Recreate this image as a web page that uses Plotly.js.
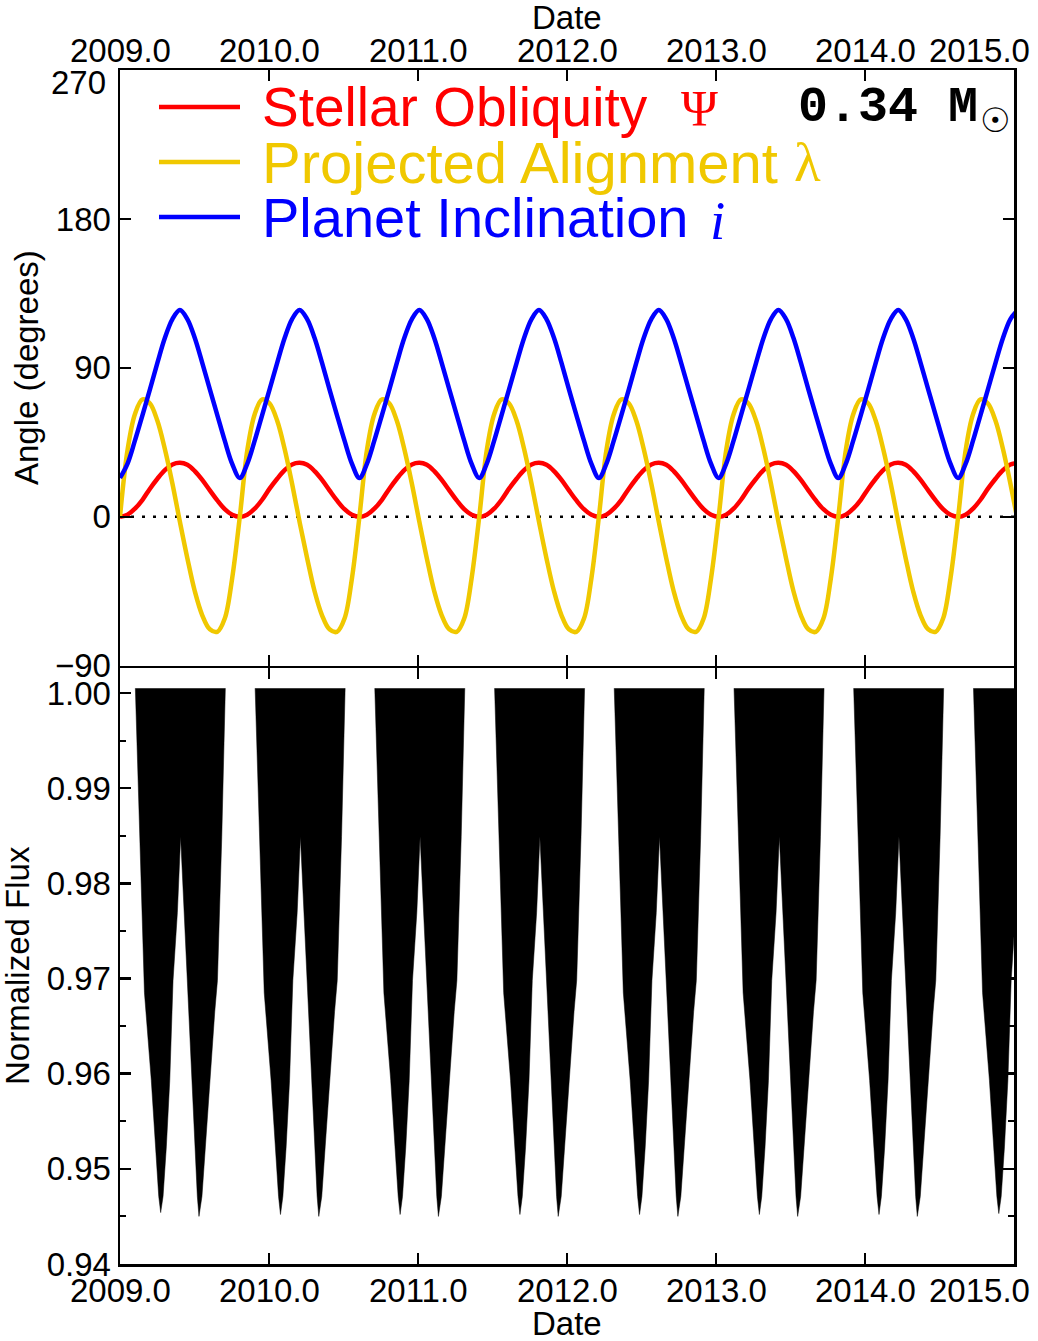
<!DOCTYPE html>
<html>
<head>
<meta charset="utf-8">
<script src="https://cdn.plot.ly/plotly-3.0.1.min.js"></script>
<style>
  html, body { margin: 0; padding: 0; background: white; }
  #chart { width: 1038px; height: 1341px; }
</style>
</head>
<body>
<div id="chart"></div>
<script>
// sample dates (decimal year) for the three angle curves
var dates = [
  2009.000, 2009.050, 2009.100, 2009.151, 2009.201, 2009.251, 2009.301, 2009.352, 2009.402, 2009.452, 2009.502, 2009.552, 2009.603, 2009.653, 2009.703, 2009.753,
  2009.804, 2009.854, 2009.904, 2009.954, 2010.004, 2010.055, 2010.105, 2010.155, 2010.205, 2010.256, 2010.306, 2010.356, 2010.406, 2010.456, 2010.507, 2010.557,
  2010.607, 2010.657, 2010.707, 2010.758, 2010.808, 2010.858, 2010.908, 2010.959, 2011.009, 2011.059, 2011.109, 2011.159, 2011.210, 2011.260, 2011.310, 2011.360,
  2011.411, 2011.461, 2011.511, 2011.561, 2011.611, 2011.662, 2011.712, 2011.762, 2011.812, 2011.862, 2011.913, 2011.963, 2012.013, 2012.063, 2012.114, 2012.164,
  2012.214, 2012.264, 2012.314, 2012.365, 2012.415, 2012.465, 2012.515, 2012.566, 2012.616, 2012.666, 2012.716, 2012.766, 2012.817, 2012.867, 2012.917, 2012.967,
  2013.018, 2013.068, 2013.118, 2013.168, 2013.218, 2013.269, 2013.319, 2013.369, 2013.419, 2013.470, 2013.520, 2013.570, 2013.620, 2013.670, 2013.721, 2013.771,
  2013.821, 2013.871, 2013.921, 2013.972, 2014.022, 2014.072, 2014.122, 2014.173, 2014.223, 2014.273, 2014.323, 2014.373, 2014.424, 2014.474, 2014.524, 2014.574,
  2014.625, 2014.675, 2014.725, 2014.775, 2014.825, 2014.876, 2014.926, 2014.976, 2015.026
];

// stellar obliquity psi (degrees)
var obliquity = [
  0, 1.3, 4.9, 10.3, 17.0, 23.0, 28.2, 31.6, 32.6, 31.4, 27.6, 22.3, 16.0, 9.9, 4.6, 1.2,
  0, 1.3, 4.9, 10.3, 17.0, 23.0, 28.2, 31.6, 32.6, 31.4, 27.6, 22.3, 16.0, 9.9, 4.6, 1.2,
  0, 1.3, 4.9, 10.3, 17.0, 23.0, 28.2, 31.6, 32.6, 31.4, 27.6, 22.3, 16.0, 9.9, 4.6, 1.2,
  0, 1.3, 4.9, 10.3, 17.0, 23.0, 28.2, 31.6, 32.6, 31.4, 27.6, 22.3, 16.0, 9.9, 4.6, 1.2,
  0, 1.3, 4.9, 10.3, 17.0, 23.0, 28.2, 31.6, 32.6, 31.4, 27.6, 22.3, 16.0, 9.9, 4.6, 1.2,
  0, 1.3, 4.9, 10.3, 17.0, 23.0, 28.2, 31.6, 32.6, 31.4, 27.6, 22.3, 16.0, 9.9, 4.6, 1.2,
  0, 1.3, 4.9, 10.3, 17.0, 23.0, 28.2, 31.6, 32.6, 31.4, 27.6, 22.3, 16.0, 9.9, 4.6, 1.2,
  0, 1.3, 4.9, 10.3, 17.0, 23.0, 28.2, 31.6, 32.6
];

// projected alignment lambda (degrees)
var alignment = [
  0, 40, 62, 71, 68.5, 58, 41, 20, -3, -25, -45, -59.5, -68, -69.5, -61.5, -37,
  0, 40, 62, 71, 68.5, 58, 41, 20, -3, -25, -45, -59.5, -68, -69.5, -61.5, -37,
  0, 40, 62, 71, 68.5, 58, 41, 20, -3, -25, -45, -59.5, -68, -69.5, -61.5, -37,
  0, 40, 62, 71, 68.5, 58, 41, 20, -3, -25, -45, -59.5, -68, -69.5, -61.5, -37,
  0, 40, 62, 71, 68.5, 58, 41, 20, -3, -25, -45, -59.5, -68, -69.5, -61.5, -37,
  0, 40, 62, 71, 68.5, 58, 41, 20, -3, -25, -45, -59.5, -68, -69.5, -61.5, -37,
  0, 40, 62, 71, 68.5, 58, 41, 20, -3, -25, -45, -59.5, -68, -69.5, -61.5, -37,
  0, 40, 62, 71, 68.5, 58, 41, 20, -3
];

// planet inclination i (degrees)
var inclination = [
  23.5, 32, 46, 61.5, 77, 93, 108, 119.5, 125, 119.5, 108, 93, 77, 61.5, 46, 32,
  23.5, 32, 46, 61.5, 77, 93, 108, 119.5, 125, 119.5, 108, 93, 77, 61.5, 46, 32,
  23.5, 32, 46, 61.5, 77, 93, 108, 119.5, 125, 119.5, 108, 93, 77, 61.5, 46, 32,
  23.5, 32, 46, 61.5, 77, 93, 108, 119.5, 125, 119.5, 108, 93, 77, 61.5, 46, 32,
  23.5, 32, 46, 61.5, 77, 93, 108, 119.5, 125, 119.5, 108, 93, 77, 61.5, 46, 32,
  23.5, 32, 46, 61.5, 77, 93, 108, 119.5, 125, 119.5, 108, 93, 77, 61.5, 46, 32,
  23.5, 32, 46, 61.5, 77, 93, 108, 119.5, 125, 119.5, 108, 93, 77, 61.5, 46, 32,
  23.5, 32, 46, 61.5, 77, 93, 108, 119.5, 125
];

// lower envelope of the transit light curve, one block per transit season
var fluxDates = [
  2009.103, 2009.132, 2009.164, 2009.210, 2009.237, 2009.260, 2009.273, 2009.289, 2009.311, 2009.334, 2009.356, 2009.385, 2009.407,
  2009.430, 2009.453, 2009.479, 2009.501, 2009.519, 2009.530, 2009.550, 2009.573, 2009.602, 2009.636, 2009.654, 2009.683, 2009.707, null,
  2009.907, 2009.936, 2009.968, 2010.014, 2010.041, 2010.064, 2010.077, 2010.093, 2010.115, 2010.138, 2010.160, 2010.189, 2010.211,
  2010.234, 2010.257, 2010.283, 2010.305, 2010.323, 2010.334, 2010.354, 2010.377, 2010.406, 2010.440, 2010.458, 2010.487, 2010.511, null,
  2010.710, 2010.739, 2010.771, 2010.817, 2010.844, 2010.867, 2010.880, 2010.896, 2010.918, 2010.941, 2010.963, 2010.992, 2011.014,
  2011.037, 2011.060, 2011.086, 2011.108, 2011.126, 2011.137, 2011.157, 2011.180, 2011.209, 2011.243, 2011.261, 2011.290, 2011.314, null,
  2011.514, 2011.543, 2011.575, 2011.621, 2011.648, 2011.671, 2011.684, 2011.700, 2011.722, 2011.745, 2011.767, 2011.796, 2011.818,
  2011.841, 2011.864, 2011.890, 2011.912, 2011.930, 2011.941, 2011.961, 2011.984, 2012.013, 2012.047, 2012.065, 2012.094, 2012.118, null,
  2012.317, 2012.346, 2012.378, 2012.424, 2012.451, 2012.474, 2012.487, 2012.503, 2012.525, 2012.548, 2012.570, 2012.599, 2012.621,
  2012.644, 2012.667, 2012.693, 2012.715, 2012.733, 2012.744, 2012.764, 2012.787, 2012.816, 2012.850, 2012.868, 2012.897, 2012.921, null,
  2013.121, 2013.150, 2013.182, 2013.228, 2013.255, 2013.278, 2013.291, 2013.307, 2013.329, 2013.352, 2013.374, 2013.403, 2013.425,
  2013.448, 2013.471, 2013.497, 2013.519, 2013.537, 2013.548, 2013.568, 2013.591, 2013.620, 2013.654, 2013.672, 2013.701, 2013.725, null,
  2013.924, 2013.953, 2013.985, 2014.031, 2014.058, 2014.081, 2014.094, 2014.110, 2014.132, 2014.155, 2014.177, 2014.206, 2014.228,
  2014.251, 2014.274, 2014.300, 2014.322, 2014.340, 2014.351, 2014.371, 2014.394, 2014.423, 2014.457, 2014.475, 2014.504, 2014.528, null,
  2014.728, 2014.757, 2014.789, 2014.835, 2014.862, 2014.885, 2014.898, 2014.914, 2014.936, 2014.959, 2014.981, 2015.010, 2015.032,
  2015.055, 2015.078, 2015.104, 2015.126, 2015.144, 2015.155, 2015.175, 2015.198, 2015.227, 2015.261, 2015.279, 2015.308, 2015.332
];
var fluxValues = [
  1.0005, 0.9849, 0.9685, 0.9593, 0.9523, 0.9471, 0.9454, 0.9471, 0.9523, 0.9593, 0.9698, 0.9769, 0.9849,
  0.9769, 0.9698, 0.9593, 0.9523, 0.9471, 0.9450, 0.9471, 0.9523, 0.9593, 0.9665, 0.9698, 0.9849, 1.0005, null,
  1.0005, 0.9849, 0.9685, 0.9593, 0.9523, 0.9471, 0.9452, 0.9471, 0.9523, 0.9593, 0.9698, 0.9769, 0.9849,
  0.9769, 0.9698, 0.9593, 0.9523, 0.9471, 0.9450, 0.9471, 0.9523, 0.9593, 0.9665, 0.9698, 0.9849, 1.0005, null,
  1.0005, 0.9849, 0.9685, 0.9593, 0.9523, 0.9471, 0.9452, 0.9471, 0.9523, 0.9593, 0.9698, 0.9769, 0.9849,
  0.9769, 0.9698, 0.9593, 0.9523, 0.9471, 0.9450, 0.9471, 0.9523, 0.9593, 0.9665, 0.9698, 0.9849, 1.0005, null,
  1.0005, 0.9849, 0.9685, 0.9593, 0.9523, 0.9471, 0.9452, 0.9471, 0.9523, 0.9593, 0.9698, 0.9769, 0.9849,
  0.9769, 0.9698, 0.9593, 0.9523, 0.9471, 0.9450, 0.9471, 0.9523, 0.9593, 0.9665, 0.9698, 0.9849, 1.0005, null,
  1.0005, 0.9849, 0.9685, 0.9593, 0.9523, 0.9471, 0.9452, 0.9471, 0.9523, 0.9593, 0.9698, 0.9769, 0.9849,
  0.9769, 0.9698, 0.9593, 0.9523, 0.9471, 0.9450, 0.9471, 0.9523, 0.9593, 0.9665, 0.9698, 0.9849, 1.0005, null,
  1.0005, 0.9849, 0.9685, 0.9593, 0.9523, 0.9471, 0.9452, 0.9471, 0.9523, 0.9593, 0.9698, 0.9769, 0.9849,
  0.9769, 0.9698, 0.9593, 0.9523, 0.9471, 0.9450, 0.9471, 0.9523, 0.9593, 0.9665, 0.9698, 0.9849, 1.0005, null,
  1.0005, 0.9849, 0.9685, 0.9593, 0.9523, 0.9471, 0.9452, 0.9471, 0.9523, 0.9593, 0.9698, 0.9769, 0.9849,
  0.9769, 0.9698, 0.9593, 0.9523, 0.9471, 0.9450, 0.9471, 0.9523, 0.9593, 0.9665, 0.9698, 0.9849, 1.0005, null,
  1.0005, 0.9849, 0.9685, 0.9593, 0.9523, 0.9471, 0.9453, 0.9471, 0.9523, 0.9593, 0.9698, 0.9769, 0.9849,
  0.9769, 0.9698, 0.9593, 0.9523, 0.9471, 0.9450, 0.9471, 0.9523, 0.9593, 0.9665, 0.9698, 0.9849, 1.0005
];

// tick labels
var dateTicks = [2009, 2010, 2011, 2012, 2013, 2014, 2015];
var dateTickText = ['2009.0', '2010.0', '2011.0', '2012.0', '2013.0', '2014.0', '2015.0'];
var angleTicks = [-90, 0, 90, 180, 270];
var angleTickText = ['\u221290', '0', '90', '180', ''];

var RED = 'rgb(255,0,0)';
var YELLOW = 'rgb(240,200,0)';
var BLUE = 'rgb(0,0,255)';
var SANS = 'Liberation Sans, Arial, sans-serif';
var SERIF = 'Liberation Serif, Times New Roman, serif';

// pixel -> paper helpers (plot area 120..1014 x 70..1264)
function px(x) { return (x - 120) / 894; }
function py(y) { return (1264 - y) / 1194; }

var tickFont = {family: SANS, size: 33, color: 'black'};

var traces = [
  {
    x: fluxDates, y: fluxValues, xaxis: 'x2', yaxis: 'y2',
    type: 'scatter', mode: 'lines', fill: 'toself', fillcolor: 'black',
    line: {color: 'black', width: 0.5}, connectgaps: false, hoverinfo: 'skip'
  },
  {
    x: dates, y: obliquity, xaxis: 'x', yaxis: 'y', type: 'scatter', mode: 'lines',
    line: {color: RED, width: 4.5, shape: 'spline', smoothing: 1}
  },
  {
    x: dates, y: alignment, xaxis: 'x', yaxis: 'y', type: 'scatter', mode: 'lines',
    line: {color: YELLOW, width: 4.5, shape: 'spline', smoothing: 1}
  },
  {
    x: dates, y: inclination, xaxis: 'x', yaxis: 'y', type: 'scatter', mode: 'lines',
    line: {color: BLUE, width: 4.5, shape: 'spline', smoothing: 1}
  }
];

var axisCommon = {
  showline: true, linecolor: 'black', linewidth: 2.5, mirror: 'allticks',
  ticks: 'inside', ticklen: 11, tickwidth: 2.5, tickcolor: 'black',
  showgrid: false, zeroline: false, tickfont: tickFont
};

var annotations = [];
dateTicks.forEach(function (d, i) {
  var last = i === dateTicks.length - 1;
  [51, 1290].forEach(function (yy) {
    annotations.push({
      xref: 'x', yref: 'paper', x: d, y: py(yy), text: dateTickText[i],
      showarrow: false, xanchor: last ? 'right' : 'center', xshift: last ? 18 : 0,
      yanchor: 'middle', font: tickFont
    });
  });
});
annotations.push(
  {xref: 'paper', yref: 'paper', x: px(108), y: py(83), text: '270', showarrow: false,
   xanchor: 'right', yanchor: 'middle', font: tickFont},
  {xref: 'paper', yref: 'paper', x: px(567), y: py(17), text: 'Date', showarrow: false,
   xanchor: 'center', yanchor: 'middle', font: tickFont},
  {xref: 'paper', yref: 'paper', x: px(567), y: py(1323), text: 'Date', showarrow: false,
   xanchor: 'center', yanchor: 'middle', font: tickFont},
  {xref: 'paper', yref: 'paper', x: px(26), y: py(368), text: 'Angle (degrees)', showarrow: false,
   textangle: -90, xanchor: 'center', yanchor: 'middle', font: tickFont},
  {xref: 'paper', yref: 'paper', x: px(17), y: py(966), text: 'Normalized Flux', showarrow: false,
   textangle: -90, xanchor: 'center', yanchor: 'middle', font: tickFont},
  // legend texts
  {xref: 'paper', yref: 'paper', x: px(260), y: py(107), text: 'Stellar Obliquity', showarrow: false,
   xanchor: 'left', yanchor: 'middle', font: {family: SANS, size: 55, color: RED}},
  {xref: 'paper', yref: 'paper', x: px(699), y: py(108), text: '\u03A8', showarrow: false,
   xanchor: 'center', yanchor: 'middle', font: {family: SERIF, size: 50, color: RED}},
  {xref: 'paper', yref: 'paper', x: px(260), y: py(162), text: 'Projected Alignment', showarrow: false,
   xanchor: 'left', yanchor: 'middle', font: {family: SANS, size: 58, color: YELLOW}},
  {xref: 'paper', yref: 'paper', x: px(807), y: py(162), text: '\u03BB', showarrow: false,
   xanchor: 'center', yanchor: 'middle', font: {family: SERIF, size: 55, color: YELLOW}},
  {xref: 'paper', yref: 'paper', x: px(260), y: py(217), text: 'Planet Inclination', showarrow: false,
   xanchor: 'left', yanchor: 'middle', font: {family: SANS, size: 56, color: BLUE}},
  {xref: 'paper', yref: 'paper', x: px(717), y: py(220), text: '<i>i</i>', showarrow: false,
   xanchor: 'center', yanchor: 'middle', font: {family: SERIF, size: 55, color: BLUE}},
  {xref: 'paper', yref: 'paper', x: px(796), y: py(107), text: '0.34 M', showarrow: false,
   xanchor: 'left', yanchor: 'middle', font: {family: 'Liberation Mono, Courier New, monospace', size: 50, color: 'black', weight: 'bold'}},
  {xref: 'paper', yref: 'paper', x: px(995), y: py(120), text: '\u2609', showarrow: false,
   xanchor: 'center', yanchor: 'middle', font: {family: 'DejaVu Sans', size: 34, color: 'black'}}
);

var shapes = [
  {type: 'line', xref: 'x', yref: 'y', x0: 2009, x1: 2015, y0: 0, y1: 0, layer: 'below',
   line: {color: 'black', width: 2.5, dash: '3px,8px'}},
  {type: 'line', xref: 'paper', yref: 'paper', x0: px(159), x1: px(240), y0: py(107), y1: py(107),
   line: {color: RED, width: 4.5}},
  {type: 'line', xref: 'paper', yref: 'paper', x0: px(159), x1: px(240), y0: py(162), y1: py(162),
   line: {color: YELLOW, width: 4.5}},
  {type: 'line', xref: 'paper', yref: 'paper', x0: px(159), x1: px(240), y0: py(217), y1: py(217),
   line: {color: BLUE, width: 4.5}}
];

// the two panels share one border line at y = 667 px
var layout = {
  width: 1038, height: 1341,
  margin: {l: 120, r: 24, t: 70, b: 77},
  paper_bgcolor: 'white', plot_bgcolor: 'white',
  showlegend: false,
  font: {family: SANS, color: 'black'},
  xaxis: Object.assign({}, axisCommon, {
    domain: [0, 1], anchor: 'y', range: [2009, 2015],
    tickmode: 'array', tickvals: dateTicks, showticklabels: false
  }),
  yaxis: Object.assign({}, axisCommon, {
    domain: [py(665.75), 1], anchor: 'x', range: [-90, 270],
    tickmode: 'array', tickvals: angleTicks, ticktext: angleTickText
  }),
  xaxis2: Object.assign({}, axisCommon, {
    domain: [0, 1], anchor: 'y2', range: [2009, 2015],
    tickmode: 'array', tickvals: dateTicks, showticklabels: false
  }),
  yaxis2: Object.assign({}, axisCommon, {
    domain: [0, py(668.25)], anchor: 'x2', range: [0.94, 1.0026],
    tickmode: 'linear', tick0: 0.94, dtick: 0.01, tickformat: '.2f',
    minor: {ticks: 'inside', ticklen: 6, tickwidth: 2, tickcolor: 'black', dtick: 0.005, tick0: 0.94, showgrid: false}
  }),
  annotations: annotations,
  shapes: shapes
};

Plotly.newPlot('chart', traces, layout, {staticPlot: true, displayModeBar: false});
</script>
</body>
</html>
